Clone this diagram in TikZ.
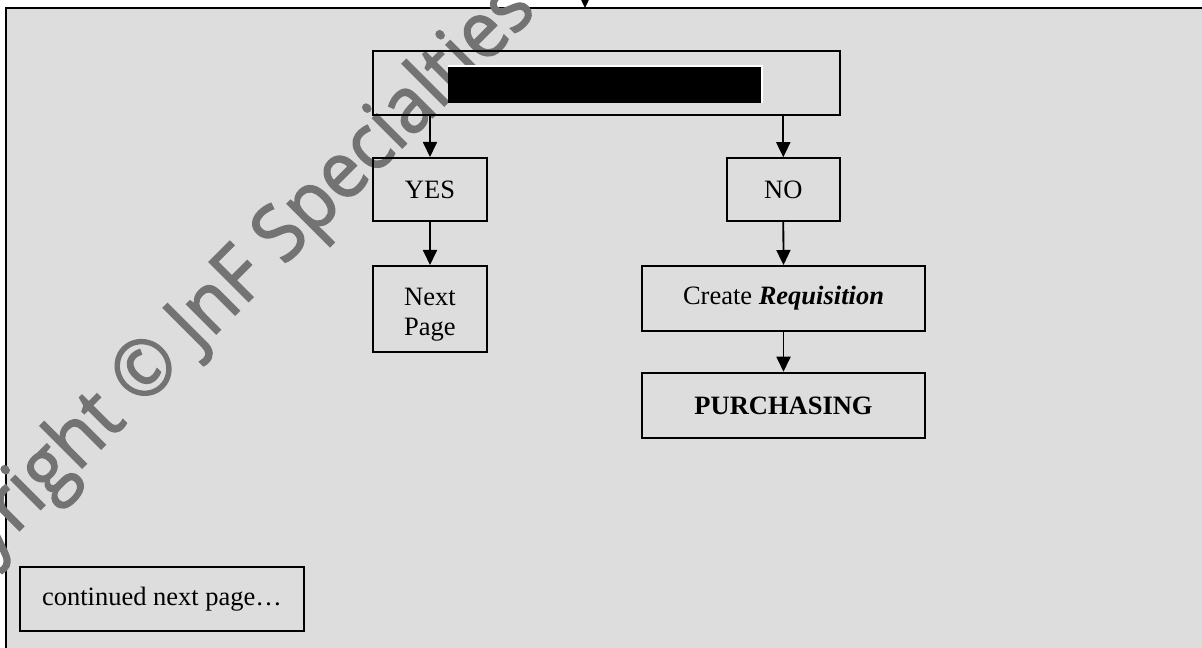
\documentclass[tikz,border=0pt]{standalone}
\usepackage{fontspec}
\setmainfont{Liberation Serif}
\newfontfamily\wmfont[FakeBold=2]{Open Sans}
\usetikzlibrary{arrows.meta}
\definecolor{bggray}{RGB}{221,221,221}
\definecolor{wmgray}{RGB}{115,115,115}
\begin{document}
\begin{tikzpicture}[x=1bp,y=-1bp,
  box/.style={draw=black, line width=2bp, inner sep=0pt, align=center,
    font=\fontsize{26.5bp}{30bp}\selectfont},
  conn/.style={line width=1.8bp, -{Triangle[length=15bp,width=14bp]}},
  wm/.style={text=wmgray, inner sep=0pt, font=\wmfont\fontsize{78bp}{78bp}\selectfont}
]
\useasboundingbox (0,0) rectangle (1202,648);
\clip (0,0) rectangle (1202,648);
\fill[white] (0,0) rectangle (1202,648);
\fill[bggray] (6,8) rectangle (1212,660);
\draw[line width=2.5bp] (6,662) -- (6,8) -- (1212,8);

% watermark
\node[wm, rotate=45, anchor=base west] (wmark) at (-106.1,656)
  {\scalebox{0.94}[1]{Copyright © JnF Specialties}};

% boxes
\node[box, minimum width=467bp, minimum height=64bp] (q) at (606.5,83) {};
\node[fill=white, inner sep=0pt, minimum width=315bp, minimum height=38bp] (redactbg) at (605.5,84) {};
\node[fill=black, inner sep=0pt, minimum width=313bp, minimum height=36bp] (redact) at (604.5,85) {};

\node[box, minimum width=114bp, minimum height=63bp] (yes) at (430,189.5) {YES};
\node[box, minimum width=114bp, minimum height=86bp] (next) at (430,309)
  {\begin{tabular}{@{}c@{}}\rule{0pt}{33bp}Next\\Page\end{tabular}};
\node[box, minimum width=113bp, minimum height=62.5bp] (no) at (783.3,189.5) {NO};
\node[box, minimum width=283bp, minimum height=65bp] (req) at (783.5,298.5) {Create \textbf{\textit{Requisition}}};
\node[box, minimum width=283bp, minimum height=65.5bp] (purch) at (783.5,405.5) {\textbf{PURCHASING}};
\node[box, minimum width=283bp, minimum height=64bp] (cont) at (162,599) {continued next page…};

% connectors
\coordinate (src) at (585,-30);
\coordinate (entry) at (585,8);
\draw[conn] (src) -- (entry);
\draw[conn] (q.south -| yes.north) -- (yes.north);
\draw[conn] (q.south -| no.north) -- (no.north);
\draw[conn] (yes.south) -- (next.north);
\draw[conn] (no.south) -- (req.north);
\draw[conn] (req.south) -- (purch.north);
\end{tikzpicture}
\end{document}
